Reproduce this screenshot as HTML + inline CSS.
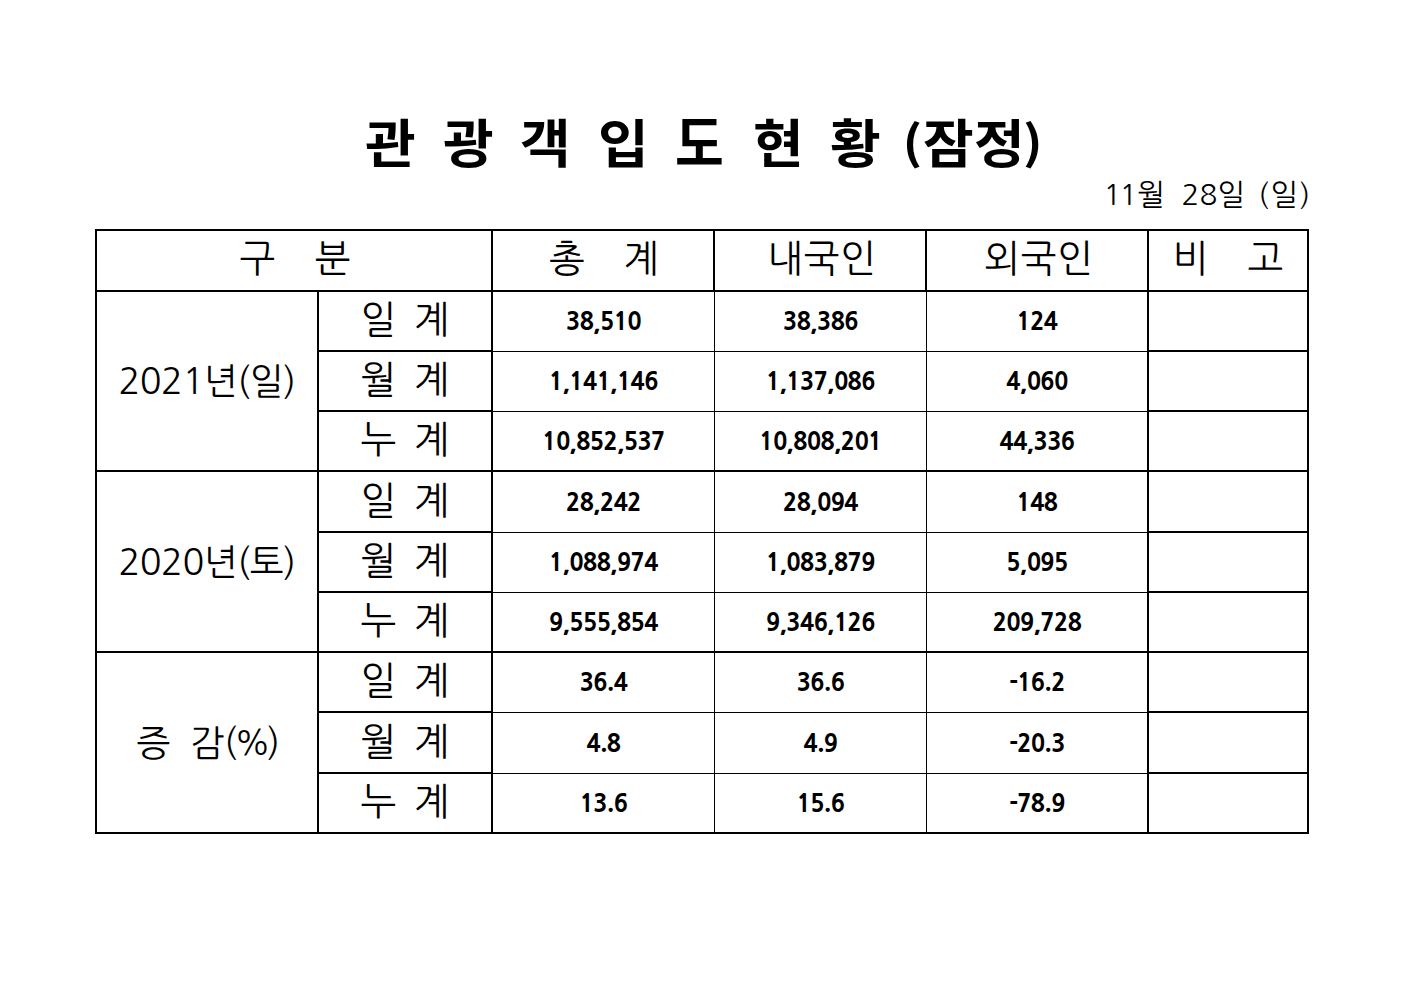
<!DOCTYPE html>
<html lang="ko"><head><meta charset="utf-8"><title>관광객 입도 현황</title>
<style>
html,body{margin:0;padding:0;background:#fff;}
body{width:1403px;height:992px;position:relative;overflow:hidden;color:#000;}
.l{position:absolute;background:#000;}
.c{position:absolute;display:flex;align-items:center;justify-content:center;white-space:pre;line-height:1;box-sizing:border-box;}
.c i{display:inline-block;font-style:normal;}
.h{font-family:NanumGothic,"Noto Sans CJK KR",sans-serif;font-size:38px;font-weight:400;}
.hw{letter-spacing:0.8px;}
.gl{font-size:36px;letter-spacing:-0.5px;}
.pc{letter-spacing:-2.6px;}
.pc b{font-weight:400;font-size:33.5px;letter-spacing:-3.8px;}
.g3{width:41px;}
.g2{width:20.7px;}
.g1{width:17.5px;}
.n{font-family:NanumGothic,sans-serif;font-weight:800;font-size:23.3px;letter-spacing:-0.45px;}
.dt{position:relative;top:-2px;}
.title{position:absolute;left:0;top:0;font-family:"Noto Sans CJK KR",sans-serif;font-weight:700;font-size:52px;line-height:1;white-space:pre;}
.title span{position:absolute;top:0;transform:scaleX(1.06);transform-origin:0 0;}
.date i{display:inline-block;}
.date{position:absolute;font-family:NanumGothic,"Noto Sans CJK KR",sans-serif;font-size:29.5px;line-height:1;white-space:pre;}
</style></head><body>
<div class="title" style="top:115px">
<span style="left:364.5px">관</span><span style="left:442.5px">광</span><span style="left:520px">객</span><span style="left:597.5px">입</span><span style="left:675px;top:-1px;transform:scale(1.02,1.128);transform-origin:0 26.5px">도</span><span style="left:752.5px">현</span><span style="left:829.5px">황</span><span style="left:902.5px;top:1px;transform:scale(1.0,0.88);transform-origin:0 27.5px">(</span><span style="left:922.5px">잠</span><span style="left:973.5px">정</span><span style="left:1023px;top:1px;transform:scale(1.0,0.88);transform-origin:0 27.5px">)</span>
</div><div class="date" style="left:1103.5px;top:180px"><span style="margin-right:-2px">1</span>1월<i style="width:16.5px"> </i>28일<i style="width:13px"> </i><span style="letter-spacing:1.5px">(일)</span></div>
<div class="l" style="left:95px;top:229px;width:1214px;height:2px"></div>
<div class="l" style="left:95px;top:832px;width:1214px;height:2px"></div>
<div class="l" style="left:95px;top:229px;width:2px;height:605px"></div>
<div class="l" style="left:1307px;top:229px;width:2px;height:605px"></div>
<div class="l" style="left:95px;top:290px;width:1214px;height:2px"></div>
<div class="l" style="left:95px;top:470px;width:1214px;height:2px"></div>
<div class="l" style="left:95px;top:651px;width:1214px;height:2px"></div>
<div class="l" style="left:317px;top:350px;width:176px;height:2px"></div>
<div class="l" style="left:493px;top:351px;width:654px;height:1px"></div>
<div class="l" style="left:1147px;top:350px;width:162px;height:2px"></div>
<div class="l" style="left:317px;top:410px;width:176px;height:2px"></div>
<div class="l" style="left:493px;top:411px;width:654px;height:1px"></div>
<div class="l" style="left:1147px;top:410px;width:162px;height:2px"></div>
<div class="l" style="left:317px;top:531px;width:176px;height:2px"></div>
<div class="l" style="left:493px;top:532px;width:654px;height:1px"></div>
<div class="l" style="left:1147px;top:531px;width:162px;height:2px"></div>
<div class="l" style="left:317px;top:591px;width:176px;height:2px"></div>
<div class="l" style="left:493px;top:592px;width:654px;height:1px"></div>
<div class="l" style="left:1147px;top:591px;width:162px;height:2px"></div>
<div class="l" style="left:317px;top:711px;width:176px;height:2px"></div>
<div class="l" style="left:493px;top:712px;width:654px;height:1px"></div>
<div class="l" style="left:1147px;top:711px;width:162px;height:2px"></div>
<div class="l" style="left:317px;top:772px;width:176px;height:2px"></div>
<div class="l" style="left:493px;top:773px;width:654px;height:1px"></div>
<div class="l" style="left:1147px;top:772px;width:162px;height:2px"></div>
<div class="l" style="left:317px;top:291px;width:2px;height:543px"></div>
<div class="l" style="left:491px;top:229px;width:2px;height:605px"></div>
<div class="l" style="left:1147px;top:229px;width:2px;height:605px"></div>
<div class="l" style="left:713px;top:229px;width:2px;height:63px"></div>
<div class="l" style="left:714px;top:292px;width:1px;height:542px"></div>
<div class="l" style="left:925px;top:229px;width:2px;height:63px"></div>
<div class="l" style="left:926px;top:292px;width:1px;height:542px"></div>
<div class="c h" style="left:98px;top:228px;width:394px;height:59px;">구<i style="width:39.5px"> </i>분</div>
<div class="c h" style="left:494px;top:228px;width:220px;height:59px;">총<i style="width:38.6px"> </i>계</div>
<div class="c h hw" style="left:717px;top:228px;width:210px;height:59px;">내국인</div>
<div class="c h hw" style="left:929px;top:228px;width:220px;height:59px;">외국인</div>
<div class="c h" style="left:1149px;top:228px;width:158px;height:59px;">비<i style="width:39px"> </i>고</div>
<div class="c h gl" style="left:97px;top:292px;width:220px;height:178px;">2021년(일)</div>
<div class="c h gl" style="left:97px;top:472px;width:220px;height:179px;">2020년(토)</div>
<div class="c h gl" style="left:97px;top:653px;width:220px;height:179px;">증<i class="g2"> </i>감<span class="pc">(<b>%</b>)</span></div>
<div class="c h" style="left:319px;top:290px;width:172px;height:58px;">일<i class="g1"> </i>계</div>
<div class="c n" style="left:493px;top:293px;width:221px;height:58px;">38,510</div>
<div class="c n" style="left:715px;top:293px;width:211px;height:58px;">38,386</div>
<div class="c n" style="left:927px;top:293px;width:220px;height:58px;">124</div>
<div class="c h" style="left:319px;top:350px;width:172px;height:58px;">월<i class="g1"> </i>계</div>
<div class="c n" style="left:493px;top:353px;width:221px;height:58px;">1,141,146</div>
<div class="c n" style="left:715px;top:353px;width:211px;height:58px;">1,137,086</div>
<div class="c n" style="left:927px;top:353px;width:220px;height:58px;">4,060</div>
<div class="c h" style="left:319px;top:410px;width:172px;height:58px;">누<i class="g1"> </i>계</div>
<div class="c n" style="left:493px;top:413px;width:221px;height:58px;">10,852,537</div>
<div class="c n" style="left:715px;top:413px;width:211px;height:58px;">10,808,201</div>
<div class="c n" style="left:927px;top:413px;width:220px;height:58px;">44,336</div>
<div class="c h" style="left:319px;top:470px;width:172px;height:59px;">일<i class="g1"> </i>계</div>
<div class="c n" style="left:493px;top:473px;width:221px;height:59px;">28,242</div>
<div class="c n" style="left:715px;top:473px;width:211px;height:59px;">28,094</div>
<div class="c n" style="left:927px;top:473px;width:220px;height:59px;">148</div>
<div class="c h" style="left:319px;top:531px;width:172px;height:58px;">월<i class="g1"> </i>계</div>
<div class="c n" style="left:493px;top:534px;width:221px;height:58px;">1,088,974</div>
<div class="c n" style="left:715px;top:534px;width:211px;height:58px;">1,083,879</div>
<div class="c n" style="left:927px;top:534px;width:220px;height:58px;">5,095</div>
<div class="c h" style="left:319px;top:591px;width:172px;height:58px;">누<i class="g1"> </i>계</div>
<div class="c n" style="left:493px;top:594px;width:221px;height:58px;">9,555,854</div>
<div class="c n" style="left:715px;top:594px;width:211px;height:58px;">9,346,126</div>
<div class="c n" style="left:927px;top:594px;width:220px;height:58px;">209,728</div>
<div class="c h" style="left:319px;top:651px;width:172px;height:58px;">일<i class="g1"> </i>계</div>
<div class="c n" style="left:493px;top:654px;width:221px;height:58px;">36<span class="dt">.</span>4</div>
<div class="c n" style="left:715px;top:654px;width:211px;height:58px;">36<span class="dt">.</span>6</div>
<div class="c n" style="left:927px;top:654px;width:220px;height:58px;">-16<span class="dt">.</span>2</div>
<div class="c h" style="left:319px;top:711px;width:172px;height:59px;">월<i class="g1"> </i>계</div>
<div class="c n" style="left:493px;top:714px;width:221px;height:59px;">4<span class="dt">.</span>8</div>
<div class="c n" style="left:715px;top:714px;width:211px;height:59px;">4<span class="dt">.</span>9</div>
<div class="c n" style="left:927px;top:714px;width:220px;height:59px;">-20<span class="dt">.</span>3</div>
<div class="c h" style="left:319px;top:772px;width:172px;height:58px;">누<i class="g1"> </i>계</div>
<div class="c n" style="left:493px;top:775px;width:221px;height:58px;">13<span class="dt">.</span>6</div>
<div class="c n" style="left:715px;top:775px;width:211px;height:58px;">15<span class="dt">.</span>6</div>
<div class="c n" style="left:927px;top:775px;width:220px;height:58px;">-78<span class="dt">.</span>9</div>
</body></html>
